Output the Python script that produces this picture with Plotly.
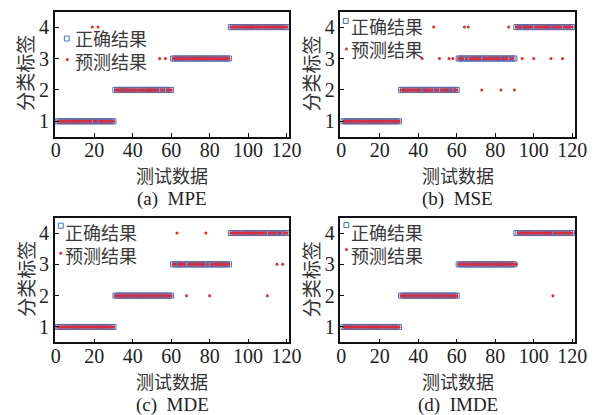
import plotly.graph_objects as go

# ---------------- data ----------------
test_ids = list(range(1, 121))  # 测试数据 (sample number)

true_labels = [
    1, 1, 1, 1, 1, 1, 1, 1, 1, 1, 1, 1, 1, 1, 1, 1, 1, 1, 1, 1, 1, 1, 1, 1, 1, 1, 1, 1, 1, 1,
    2, 2, 2, 2, 2, 2, 2, 2, 2, 2, 2, 2, 2, 2, 2, 2, 2, 2, 2, 2, 2, 2, 2, 2, 2, 2, 2, 2, 2, 2,
    3, 3, 3, 3, 3, 3, 3, 3, 3, 3, 3, 3, 3, 3, 3, 3, 3, 3, 3, 3, 3, 3, 3, 3, 3, 3, 3, 3, 3, 3,
    4, 4, 4, 4, 4, 4, 4, 4, 4, 4, 4, 4, 4, 4, 4, 4, 4, 4, 4, 4, 4, 4, 4, 4, 4, 4, 4, 4, 4, 4,
]

# misclassified samples (sample id -> predicted label) for each method
mpe_wrong_ids = [19, 22, 54, 57]
mpe_wrong_pred = [4, 4, 3, 3]

mse_wrong_ids = [42, 48, 51, 56, 58, 64, 66, 73, 83, 87, 90, 94, 100, 109, 115]
mse_wrong_pred = [3, 4, 3, 3, 3, 4, 4, 2, 2, 4, 2, 3, 3, 3, 3]

mde_wrong_ids = [63, 68, 78, 80, 110, 115, 118]
mde_wrong_pred = [4, 2, 4, 2, 2, 3, 3]

imde_wrong_ids = [91, 110]
imde_wrong_pred = [3, 2]

panel_captions = ["(a)\u00a0\u00a0MPE", "(b)\u00a0\u00a0MSE", "(c)\u00a0\u00a0MDE", "(d)\u00a0\u00a0IMDE"]
x_ticks = [0, 20, 40, 60, 80, 100, 120]
y_ticks = [1, 2, 3, 4]
legend_names = ["正确结果", "预测结果"]
x_title = "测试数据"
y_title = "分类标签"


def predicted(wrong_ids, wrong_pred):
    p = list(true_labels)
    for i, v in zip(wrong_ids, wrong_pred):
        p[test_ids.index(i)] = v
    return p


panels = [
    predicted(mpe_wrong_ids, mpe_wrong_pred),
    predicted(mse_wrong_ids, mse_wrong_pred),
    predicted(mde_wrong_ids, mde_wrong_pred),
    predicted(imde_wrong_ids, imde_wrong_pred),
]

# ---------------- layout geometry (pixels) ----------------
W, H = 606, 415
BLUE = "#4472c4"
RED = "#ff1f1f"
CJK = "Noto Sans CJK SC"
SERIF = "Liberation Serif"


def px(x):
    return x / W


def py(y):
    return 1 - y / H


col_px = [(52.2, 293.2), (345.5, 586.5)]
row_px = [(11.7, 136.7), (217.7, 342.3)]

fig = go.Figure()
layout = dict(
    width=W, height=H,
    margin=dict(l=0, r=0, t=0, b=0),
    paper_bgcolor="white", plot_bgcolor="white",
    showlegend=False,
)

annotations = []
shapes = []

# legend glyph / text positions per panel (pixels): square, dot, text left, text block centre
legend_pos = [
    dict(sq=(64.5, 38.5), dot=(65, 59.5), tx=71, ty=49.5),
    dict(sq=(351, 21), dot=(351.7, 49), tx=354, ty=38),
    dict(sq=(58.3, 225.7), dot=(58.3, 253.3), tx=61, ty=243),
    dict(sq=(351.7, 225), dot=(351.7, 249.5), tx=354, ty=243),
]

for k in range(4):
    r, c = divmod(k, 2)
    sfx = "" if k == 0 else str(k + 1)
    xa, ya = "x" + sfx, "y" + sfx
    x0, x1 = col_px[c]
    y0, y1 = row_px[r]

    fig.add_trace(go.Scatter(
        x=test_ids, y=true_labels, mode="markers", name=legend_names[0],
        xaxis=xa, yaxis=ya,
        marker=dict(symbol="square-open", size=5, color=BLUE, line=dict(width=1, color=BLUE)),
    ))
    fig.add_trace(go.Scatter(
        x=test_ids, y=panels[k], mode="markers", name=legend_names[1],
        xaxis=xa, yaxis=ya,
        marker=dict(symbol="circle", size=3, color=RED, line=dict(width=0)),
    ))

    common = dict(
        showline=True, linecolor="#111", linewidth=1.5, mirror=True,
        ticks="inside", ticklen=4, tickwidth=1, tickcolor="#111",
        showgrid=False, zeroline=False,
        tickfont=dict(family=SERIF, size=20, color="#222"),
    )
    layout["xaxis" + sfx] = dict(
        common, domain=[px(x0), px(x1)], range=[-0.5, 121.5],
        tickvals=x_ticks, anchor=ya, ticklabelstandoff=-5,
    )
    layout["yaxis" + sfx] = dict(
        common, domain=[py(y1), py(y0)], range=[0.51, 4.49],
        tickvals=y_ticks, anchor=xa,
    )

    cx = (x0 + x1) / 2
    # x-axis title
    annotations.append(dict(
        text=x_title, xref="paper", yref="paper", x=px(cx), y=py(y1 + 38.5),
        xanchor="center", yanchor="middle", showarrow=False,
        font=dict(family=CJK, size=18, color="#333"),
    ))
    # caption
    annotations.append(dict(
        text=panel_captions[k], xref="paper", yref="paper", x=px(cx), y=py(y1 + 62.5),
        xanchor="center", yanchor="middle", showarrow=False,
        font=dict(family=SERIF, size=19, color="#222"),
    ))
    # y-axis title
    annotations.append(dict(
        text=y_title, xref="paper", yref="paper", x=px(x0 - 31), y=py((y0 + y1) / 2 - 1),
        xanchor="center", yanchor="middle", showarrow=False, textangle=-90,
        font=dict(family=CJK, size=19, color="#333"),
    ))

    # legend (glyph shapes + two-line text block)
    lp = legend_pos[k]
    sx, sy = lp["sq"]
    shapes.append(dict(type="rect", xref="paper", yref="paper",
                       x0=px(sx - 2.5), x1=px(sx + 2.5), y0=py(sy + 2.5), y1=py(sy - 2.5),
                       line=dict(color=BLUE, width=1), fillcolor="rgba(0,0,0,0)"))
    dx, dy = lp["dot"]
    shapes.append(dict(type="circle", xref="paper", yref="paper",
                       x0=px(dx - 1.5), x1=px(dx + 1.5), y0=py(dy + 1.5), y1=py(dy - 1.5),
                       line=dict(width=0), fillcolor=RED))
    annotations.append(dict(
        text="<br>".join(legend_names), xref="paper", yref="paper",
        x=px(lp["tx"]), y=py(lp["ty"]), align="left",
        xanchor="left", yanchor="middle", showarrow=False,
        font=dict(family=CJK, size=18, color="#3a3a3a"),
    ))

layout["annotations"] = annotations
layout["shapes"] = shapes
fig.update_layout(**layout)
fig.write_html("out.html")
